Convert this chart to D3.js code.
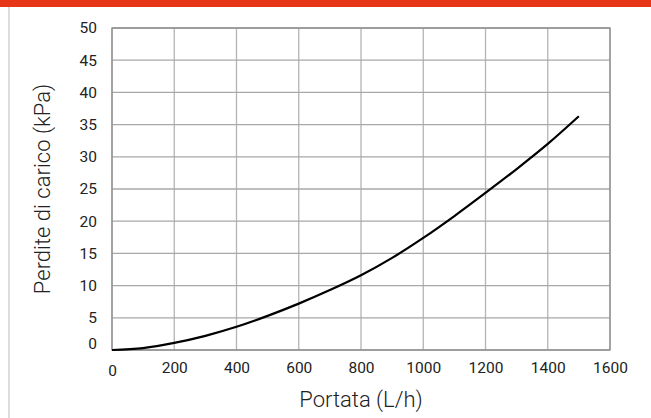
<!DOCTYPE html>
<html>
<head>
<meta charset="utf-8">
<script src="https://cdn.jsdelivr.net/npm/d3@7/dist/d3.min.js"></script>
<style>
  html, body { margin: 0; padding: 0; background: #fff; }
  #chart text { font-family: Roboto, "Noto Sans", sans-serif; fill: #222; }
</style>
</head>
<body>
<div id="chart"></div>
<script>
  // portata (L/h) and perdite di carico (kPa)
  const flow = [0, 100, 200, 300, 400, 500, 600, 700, 800, 900, 1000, 1100, 1200, 1300, 1400, 1500];
  const loss = [0, 0.3, 1.1, 2.2, 3.6, 5.3, 7.2, 9.3, 11.6, 14.3, 17.4, 20.8, 24.4, 28.1, 32.0, 36.3];
  const xTicks = [0, 200, 400, 600, 800, 1000, 1200, 1400, 1600];
  const yTicks = [0, 5, 10, 15, 20, 25, 30, 35, 40, 45, 50];

  const W = 651, H = 418;
  const margin = {top: 28, right: 41, bottom: 68, left: 112},
    width = W - margin.left - margin.right,
    height = H - margin.top - margin.bottom;

  const data = flow.map((q, i) => ({q, p: loss[i]}));

  const x = d3.scaleLinear().domain([0, 1600]).range([0, width]);
  const y = d3.scaleLinear().domain([0, 50]).range([height, 0]);

  const svgTop = d3.select('#chart').append('svg')
    .attr('width', W)
    .attr('height', H);

  // red band and grey side rule
  svgTop.append('rect')
    .attr('x', 0).attr('y', 0)
    .attr('width', W).attr('height', 7)
    .attr('fill', '#e73517');
  svgTop.append('rect')
    .attr('x', 8).attr('y', 7)
    .attr('width', 2).attr('height', H - 7)
    .attr('fill', '#dcdcdc');

  const svg = svgTop.append('g')
    .attr('transform', `translate(${margin.left},${margin.top})`);

  // grid
  svg.append('g')
    .selectAll('line')
    .data(xTicks)
    .enter().append('line')
      .attr('x1', d => x(d)).attr('x2', d => x(d))
      .attr('y1', 0).attr('y2', height)
      .attr('stroke', '#b4b4b4')
      .attr('stroke-width', 1.3);
  svg.append('g')
    .selectAll('line')
    .data(yTicks)
    .enter().append('line')
      .attr('x1', 0).attr('x2', width)
      .attr('y1', d => y(d)).attr('y2', d => y(d))
      .attr('stroke', '#a8a8a8')
      .attr('stroke-width', 1.3);

  svg.append('rect')
    .attr('width', width).attr('height', height)
    .attr('fill', 'none')
    .attr('stroke', '#8c8c8c')
    .attr('stroke-width', 1.3);

  // axes (labels only)
  const xAxis = d3.axisBottom(x).tickValues(xTicks).tickSize(0).tickPadding(12).tickFormat(d3.format('d'));
  const yAxis = d3.axisLeft(y).tickValues(yTicks).tickSize(0).tickPadding(15).tickFormat(d3.format('d'));

  const gx = svg.append('g')
    .attr('transform', `translate(0,${height})`)
    .call(xAxis);
  const gy = svg.append('g').call(yAxis);
  [gx, gy].forEach(g => {
    g.select('.domain').remove();
    g.selectAll('text').style('font-size', '15.5px').attr('fill', '#222');
  });
  gy.selectAll('.tick').filter(d => d === 0).select('text').attr('dy', '-0.1em');
  gx.selectAll('.tick').filter(d => d === 0).select('text').attr('dy', '0.9em');

  // curve
  const line = d3.line()
    .x(d => x(d.q))
    .y(d => y(d.p))
    .curve(d3.curveMonotoneX);
  svg.append('path')
    .datum(data)
    .attr('fill', 'none')
    .attr('stroke', '#000')
    .attr('stroke-width', 2.2)
    .attr('d', line);

  // titles
  svg.append('text')
    .attr('x', width / 2)
    .attr('y', height + 57)
    .attr('text-anchor', 'middle')
    .style('font-size', '22px')
    .style('font-weight', 300)
    .text('Portata (L/h)');
  svg.append('text')
    .attr('transform', `translate(${-62},${height / 2}) rotate(-90)`)
    .attr('text-anchor', 'middle')
    .style('font-size', '22px')
    .style('font-weight', 300)
    .text('Perdite di carico (kPa)');
</script>
</body>
</html>
